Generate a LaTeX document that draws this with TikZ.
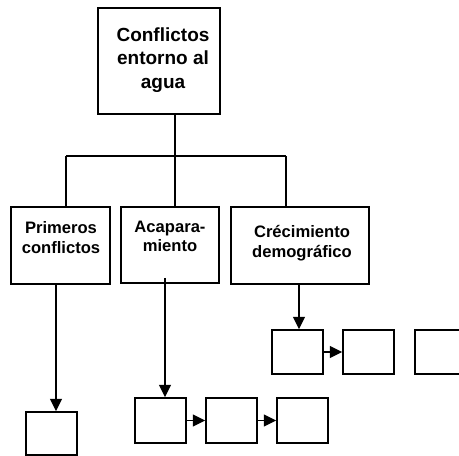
\documentclass[tikz,border=0pt]{standalone}
\usepackage{fontspec}
\setmainfont{Liberation Sans}
\usetikzlibrary{arrows.meta}
\begin{document}
\begin{tikzpicture}[x=1pt,y=-1pt,
  line width=1.5pt,
  box/.style={draw, rectangle, inner sep=0pt},
  label/.style={align=center, font=\bfseries\fontsize{16.6}{19.5}\selectfont, inner sep=0pt},
  link/.style={line width=1.5pt},
  arr/.style={line width=1.5pt, -{Triangle[length=12.5pt,width=12pt]}}]
\clip (0,0) rectangle (459,456);

% head of the tree
\node[box, minimum width=122pt, minimum height=106pt] (top) at (159,61) {};
\node[label, font=\bfseries\fontsize{19}{23.5}\selectfont] (toptxt) at (163,60)
  {Conflictos\\entorno al\\agua};

% three branches
\node[box, minimum width=99pt, minimum height=77pt] (c1) at (60.5,245.5) {};
\node[box, minimum width=98pt, minimum height=76pt] (c2) at (170,245) {};
\node[box, minimum width=138pt, minimum height=77pt] (c3) at (300,245.5) {};
\node[label] (c1txt) at (61,237.5) {Primeros\\conflictos};
\node[label] (c2txt) at (170,236.5) {Acapara-\\miento};
\node[label] (c3txt) at (302,243) {Crécimiento\\demográfico};

% empty boxes
\node[box, minimum width=51pt, minimum height=43pt] (p1) at (51.5,433.5) {};
\node[box, minimum width=51pt, minimum height=45pt] (a1) at (160.5,420.5) {};
\node[box, minimum width=51pt, minimum height=45pt] (a2) at (231.5,420.5) {};
\node[box, minimum width=51pt, minimum height=45pt] (a3) at (302.5,420.5) {};
\node[box, minimum width=51pt, minimum height=44pt] (d1) at (297.5,352) {};
\node[box, minimum width=51pt, minimum height=44pt] (d2) at (368.5,352) {};
\node[box, minimum width=51pt, minimum height=44pt] (d3) at (440.5,352) {};

% tree connectors
\coordinate (bar) at (175,156);
\coordinate (barL) at (66,156);
\coordinate (barR) at (286,156);
\draw[link] (top.south -| bar) -- (bar);
\draw[link] (barL) -- (barR);
\draw[link] (barL) -- (c1.north -| barL);
\draw[link] (bar) -- (c2.north -| bar);
\draw[link] (barR) -- (c3.north -| barR);

% arrows down to the boxes
\coordinate (x1) at (56,0);
\coordinate (x2) at (165,0);
\coordinate (x3) at (299,0);
\draw[arr] (c1.south -| x1) -- (p1.north -| x1);
\draw[arr] ([yshift=6pt]c2.south -| x2) -- (a1.north -| x2);
\draw[arr] (c3.south -| x3) -- (d1.north -| x3);

% arrows along the rows
\draw[arr] (a1.east) -- (a2.west);
\draw[arr] (a2.east) -- (a3.west);
\draw[arr] (d1.east) -- (d2.west);
\end{tikzpicture}
\end{document}
